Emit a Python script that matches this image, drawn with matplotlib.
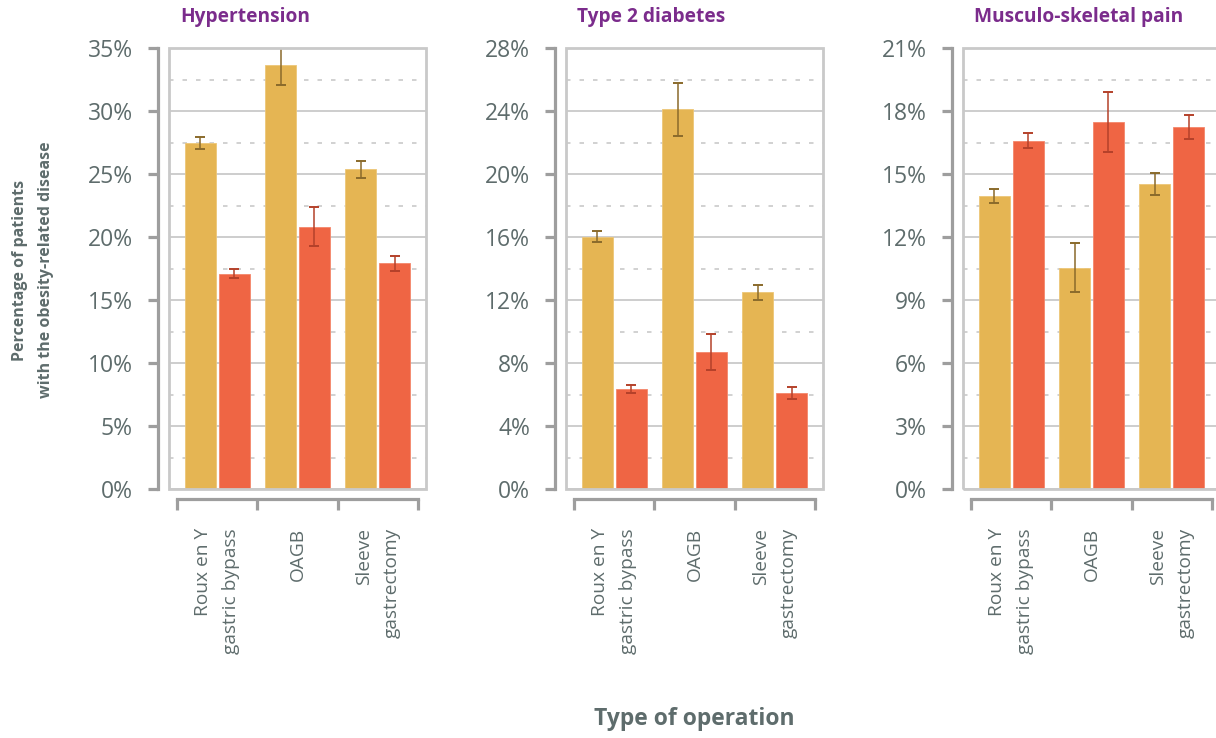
import matplotlib
matplotlib.use('Agg')
import matplotlib.pyplot as plt
from matplotlib.patches import Rectangle
from matplotlib.ticker import MultipleLocator, FixedLocator, FuncFormatter
import numpy as np

plt.rcParams['font.family'] = ['Open Sans', 'DejaVu Sans']
plt.rcParams['lines.scale_dashes'] = False

# ---------------- data ----------------
operations = ['Roux en Y\ngastric bypass', 'OAGB', 'Sleeve\ngastrectomy']
diseases = ['Hypertension', 'Type 2 diabetes', 'Musculo-skeletal pain']

hyp_a = [27.45, 33.65, 25.37]
hyp_a_err = [0.45, 1.60, 0.66]
hyp_b = [17.10, 20.82, 17.91]
hyp_b_err = [0.35, 1.55, 0.57]

dia_a = [16.02, 24.10, 12.50]
dia_a_err = [0.35, 1.70, 0.48]
dia_b = [6.35, 8.70, 6.10]
dia_b_err = [0.25, 1.15, 0.36]

msk_a = [13.97, 10.54, 14.51]
msk_a_err = [0.33, 1.16, 0.53]
msk_b = [16.59, 17.48, 17.24]
msk_b_err = [0.35, 1.44, 0.56]

y_max = [35, 28, 21]
y_step = [5, 4, 3]

series_a = [hyp_a, dia_a, msk_a]
series_a_err = [hyp_a_err, dia_a_err, msk_a_err]
series_b = [hyp_b, dia_b, msk_b]
series_b_err = [hyp_b_err, dia_b_err, msk_b_err]

# ---------------- style ----------------
W, H = 1216, 738
fig = plt.figure(figsize=(W / 100, H / 100), dpi=100)

col_a = '#E5B553'
col_b = '#EF6544'
err_a = '#8A6A2B'
err_b = '#B4412A'
frame_col = '#C9C9C9'
spine_col = '#9E9E9E'
text_col = '#5E6C6C'
title_col = '#7B2C8C'

px = 72 / 100  # points per pixel

lefts = [169, 566, 963]
ax_w = 257
ax_top, ax_bot = 48, 489

x = np.arange(len(operations))
off = 0.21
bw = 0.385

for i in range(3):
    ax = fig.add_axes([lefts[i] / W, 1 - ax_bot / H, ax_w / W, (ax_bot - ax_top) / H])
    ax.set_xlim(-0.6, 2.6)
    ax.set_ylim(0, y_max[i])

    ax.bar(x - off, series_a[i], width=bw, color=col_a, edgecolor='#EDC677',
           linewidth=0.6, zorder=3)
    ax.bar(x + off, series_b[i], width=bw, color=col_b, edgecolor='#F4866B',
           linewidth=0.6, zorder=3)
    ax.errorbar(x - off, series_a[i], yerr=series_a_err[i], fmt='none',
                ecolor=err_a, elinewidth=1.1, capsize=3.3, capthick=1.4, zorder=4)
    ax.errorbar(x + off, series_b[i], yerr=series_b_err[i], fmt='none',
                ecolor=err_b, elinewidth=1.1, capsize=3.3, capthick=1.4, zorder=4)

    # grid
    ax.yaxis.set_major_locator(MultipleLocator(y_step[i]))
    ax.yaxis.set_minor_locator(MultipleLocator(y_step[i] / 2))
    ax.yaxis.set_major_formatter(FuncFormatter(lambda v, p: f'{v:.0f}%'))
    ax.grid(axis='y', which='major', color=frame_col, linewidth=1.3, zorder=0)
    ax.grid(axis='y', which='minor', color=frame_col, linewidth=1.2,
            linestyle=(0, (4.5 * px, 9 * px)), zorder=0)
    ax.set_axisbelow(True)

    # frame
    for s in ['top', 'right']:
        ax.spines[s].set_visible(False)
    ax.add_patch(Rectangle((0, 0), 1, 1, transform=ax.transAxes, fill=False,
                           edgecolor=frame_col, linewidth=2.0, zorder=5, clip_on=False))

    # left spine
    ax.spines['left'].set_position(('outward', 11 * px))
    ax.spines['left'].set_color(spine_col)
    ax.spines['left'].set_linewidth(2.3)
    ax.tick_params(axis='y', which='major', length=10 * px, width=2.3, color=spine_col,
                   labelsize=16.5, labelcolor=text_col, pad=15 * px)
    ax.tick_params(axis='y', which='minor', length=0)

    # bottom bracket axis
    ax.spines['bottom'].set_position(('outward', 10 * px))
    ax.spines['bottom'].set_color(spine_col)
    ax.spines['bottom'].set_linewidth(2.3)
    ax.spines['bottom'].set_bounds(-0.5, 2.5)
    ax.xaxis.set_major_locator(FixedLocator([-0.5, 0.5, 1.5, 2.5]))
    ax.xaxis.set_minor_locator(FixedLocator(list(x)))
    ax.set_xticklabels([], minor=False)
    ax.set_xticklabels(operations, minor=True)
    ax.tick_params(axis='x', which='major', length=11 * px, width=2.3, color=spine_col,
                   direction='out')
    ax.tick_params(axis='x', which='minor', length=0, labelsize=13.8,
                   labelcolor=text_col, pad=29 * px, labelrotation=90)
    for t in ax.get_xticklabels(minor=True):
        t.set_multialignment('right')
        t.set_linespacing(1.7)
        t.set_verticalalignment('top')
        t.set_horizontalalignment('center')

    ax.annotate(diseases[i], xy=(0, 1), xycoords='axes fraction',
                xytext=(11 * px, 26 * px), textcoords='offset points',
                ha='left', va='baseline', fontsize=13.8, fontweight='bold',
                color=title_col)

fig.text(33 / W, 1 - 270 / H, 'Percentage of patients\nwith the obesity-related disease',
         rotation=90, ha='center', va='center', fontsize=11.5, fontweight='bold',
         color=text_col, linespacing=1.85)
fig.text(694 / W, 1 - 725 / H, 'Type of operation', ha='center', va='baseline',
         fontsize=16.5, fontweight='bold', color=text_col)

fig.savefig('out.png', dpi=100)
